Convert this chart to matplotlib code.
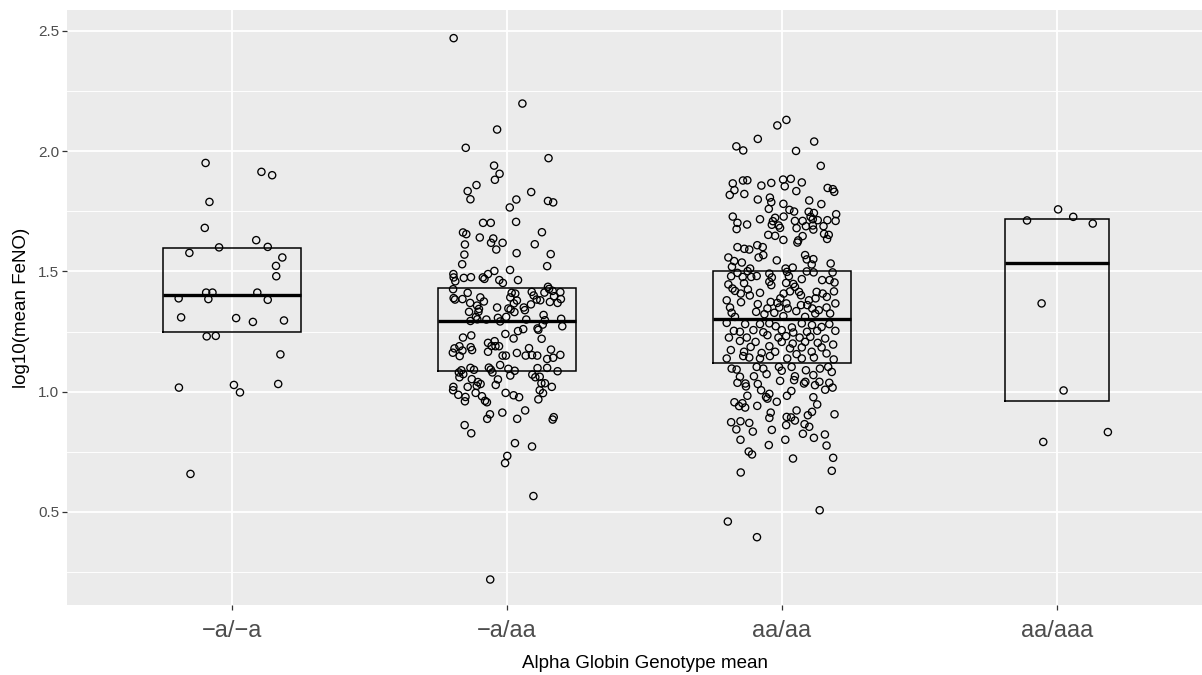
import matplotlib
matplotlib.use("Agg")
import matplotlib.pyplot as plt

categories = ["\u2212a/\u2212a", "\u2212a/aa", "aa/aa", "aa/aaa"]
x_title = "Alpha Globin Genotype mean"
y_title = "log10(mean FeNO)"
y_ticks = [0.5, 1.0, 1.5, 2.0, 2.5]
y_minor = [0.25, 0.75, 1.25, 1.75, 2.25]

# crossbar summaries per genotype
box_low = [1.250, 1.085, 1.120, 0.962]
box_mid = [1.402, 1.292, 1.301, 1.534]
box_high = [1.598, 1.430, 1.502, 1.716]
box_width = [0.5, 0.5, 0.5, 0.38]

# (jitter offset, value) pairs
pts_a_a = [(-0.096,1.951),(0.107,1.914),(0.146,1.900),(-0.082,1.789),(-0.099,1.681),(0.088,1.630),(-0.047,1.600),(0.130,1.602),(-0.155,1.577),(0.183,1.558),(0.160,1.523),(0.161,1.480),(-0.094,1.412),(-0.071,1.412),(0.092,1.412),(-0.194,1.388),(-0.086,1.385),(0.130,1.382),(-0.185,1.309),(0.015,1.306),(0.076,1.290),(0.189,1.296),(-0.092,1.230),(-0.059,1.232),(0.176,1.155),(-0.193,1.017),(0.007,1.028),(0.029,0.997),(0.168,1.032),(-0.151,0.658)]

pts_a_aa = [(-0.194,2.470),(0.056,2.198),(-0.036,2.090),(-0.150,2.014),(0.151,1.971),(-0.047,1.940),(-0.027,1.906),(-0.044,1.881),(-0.111,1.859),(-0.143,1.834),(-0.133,1.800),(0.088,1.830),(0.034,1.799),(0.010,1.766),(0.149,1.793),(0.168,1.787),
(-0.087,1.702),(-0.059,1.702),(0.033,1.706),(-0.160,1.662),(-0.148,1.655),(0.127,1.663),(-0.099,1.641),(-0.050,1.637),(-0.058,1.619),(-0.016,1.619),(-0.153,1.612),(0.101,1.613),(-0.039,1.591),(-0.155,1.570),(0.035,1.576),(0.159,1.572),(-0.163,1.530),(0.146,1.522),(0.011,1.506),(-0.195,1.489),(-0.069,1.489),(-0.046,1.502),(-0.194,1.475),(-0.157,1.473),(-0.131,1.476),(-0.088,1.475),(-0.082,1.469),(-0.188,1.459),(-0.028,1.464),(-0.015,1.452),(0.040,1.464),(0.149,1.436),(0.153,1.427),(-0.196,1.426),(-0.143,1.411),(0.017,1.411),(0.030,1.408),(0.090,1.415),(0.097,1.400),(0.136,1.412),(0.166,1.419),(0.194,1.414),(-0.194,1.389),(-0.189,1.383),(-0.162,1.385),(-0.097,1.392),(-0.084,1.375),(0.012,1.392),(0.036,1.379),(0.108,1.383),(0.121,1.380),(0.171,1.397),(0.196,1.385),(0.156,1.373),(0.184,1.369),(-0.134,1.369),(-0.109,1.358),(0.025,1.367),(0.087,1.363),(-0.036,1.350),(0.005,1.346),(0.013,1.342),(0.061,1.350),(0.065,1.339),(-0.102,1.344),(-0.138,1.332),(-0.104,1.332),(0.027,1.331),(0.133,1.319),(-0.113,1.311),(-0.108,1.301),(-0.075,1.300),(-0.033,1.307),(-0.003,1.311),(0.070,1.300),(-0.133,1.294),(-0.025,1.292),(0.138,1.297),(0.197,1.303),(0.130,1.279),(0.201,1.272),(0.111,1.263),(0.114,1.257),(0.059,1.260),(0.040,1.252),(-0.006,1.240),(-0.130,1.234),(0.024,1.221),(-0.160,1.225),(0.126,1.220),(-0.069,1.203),(-0.045,1.210),(-0.056,1.190),(-0.042,1.189),(-0.029,1.189),(-0.173,1.189),(-0.191,1.180),(-0.132,1.185),(-0.127,1.173),(-0.162,1.171),(-0.069,1.166),(0.080,1.181),(0.160,1.175),(-0.197,1.162),(-0.172,1.148),(-0.016,1.150),(-0.004,1.150),(0.036,1.161),(0.068,1.150),(0.091,1.152),(0.110,1.150),(0.194,1.153),(0.146,1.136),(0.168,1.141),(-0.025,1.111),(-0.166,1.089),(-0.175,1.080),(-0.133,1.099),(-0.120,1.091),(-0.066,1.100),(-0.059,1.092),(0.005,1.095),(0.028,1.087),(0.111,1.098),(0.146,1.099),(0.184,1.085),(-0.159,1.073),(-0.053,1.080),(0.012,1.067),(0.092,1.071),(0.103,1.060),(0.119,1.062),(-0.173,1.060),(-0.128,1.052),(-0.033,1.051),(-0.106,1.040),(-0.096,1.032),(-0.041,1.028),(0.125,1.035),(0.138,1.035),(-0.143,1.020),(-0.110,1.024),(0.163,1.020),(-0.195,1.020),(-0.196,1.006),(0.119,1.006),(-0.177,0.987),(-0.151,0.978),(-0.114,0.995),(-0.091,0.981),(-0.005,0.995),(0.024,0.985),(0.044,0.977),(0.131,0.994),(0.114,0.968),(-0.153,0.960),(-0.080,0.962),(-0.073,0.956),(0.066,0.922),(-0.017,0.913),(-0.062,0.906),(-0.072,0.887),(0.037,0.887),(0.170,0.894),(0.166,0.884),
(-0.154,0.861),(-0.130,0.827),(0.029,0.786),(0.091,0.772),(0.001,0.733),(-0.007,0.703),(0.096,0.566),(-0.061,0.219)]

pts_aa_aa = [(0.016,2.130),(-0.017,2.107),(-0.088,2.051),(-0.166,2.020),(-0.141,2.003),(0.117,2.040),(0.051,2.001),(0.141,1.939),(-0.142,1.878),(-0.126,1.879),(-0.179,1.866),(-0.173,1.838),(-0.190,1.818),(-0.137,1.822),(-0.075,1.857),(-0.039,1.868),(0.004,1.882),(0.010,1.854),(0.032,1.885),(0.072,1.870),(0.052,1.834),(0.166,1.847),(0.185,1.842),(0.190,1.831),(-0.088,1.799),(-0.044,1.807),(-0.039,1.788),(-0.048,1.760),(0.005,1.781),(0.099,1.795),(0.143,1.780),(0.027,1.756),(0.044,1.749),(0.097,1.748),(0.116,1.743),(0.197,1.738),(-0.179,1.728),(-0.080,1.717),(0.006,1.728),(-0.025,1.723),(0.104,1.727),(0.112,1.717),(0.130,1.713),(-0.162,1.702),(-0.127,1.695),(-0.033,1.709),(-0.037,1.694),(-0.012,1.691),(0.047,1.710),(0.075,1.710),(0.087,1.688),(0.112,1.691),(0.165,1.713),(0.195,1.710),(0.151,1.688),(-0.165,1.676),(-0.007,1.681),(0.053,1.680),(0.114,1.674),(-0.050,1.652),(-0.025,1.648),(0.075,1.647),(0.005,1.631),(0.059,1.629),(0.056,1.620),(0.153,1.656),(0.170,1.652),(0.164,1.635),(-0.162,1.601),(-0.137,1.594),(-0.119,1.591),(-0.090,1.609),(-0.070,1.601),
(-0.195,1.558),(-0.174,1.543),(-0.146,1.537),(-0.085,1.558),(-0.068,1.568),(-0.019,1.546),(0.084,1.568),(0.090,1.550),(0.114,1.551),(0.177,1.533),(0.108,1.529),(0.013,1.512),(0.039,1.516),(-0.182,1.519),(-0.116,1.512),(-0.125,1.501),(-0.162,1.494),(-0.046,1.491),(-0.037,1.475),(0.018,1.498),(0.025,1.480),(0.090,1.500),(0.115,1.496),(0.184,1.496),(-0.185,1.480),(-0.143,1.477),(-0.112,1.477),(-0.092,1.481),(0.072,1.468),(0.146,1.464),(0.173,1.464),(0.191,1.454),(-0.195,1.446),(-0.138,1.451),(-0.046,1.457),(-0.039,1.443),(0.015,1.452),(0.041,1.448),(0.047,1.436),(-0.180,1.429),(-0.171,1.419),(-0.124,1.425),(-0.150,1.408),(-0.117,1.400),(-0.080,1.411),(0.006,1.408),(0.029,1.417),(0.062,1.415),(0.069,1.401),(0.126,1.415),(0.148,1.408),(0.189,1.417),(0.163,1.394),(-0.201,1.380),(-0.149,1.372),(-0.041,1.373),(-0.006,1.388),(-0.017,1.369),(0.016,1.367),(0.098,1.380),(0.122,1.388),(0.194,1.367),(-0.189,1.350),(-0.088,1.364),(-0.053,1.346),(-0.010,1.350),(0.021,1.346),(0.069,1.360),(0.092,1.360),(0.110,1.346),(0.134,1.339),(0.162,1.350),(-0.183,1.328),(-0.094,1.332),(-0.028,1.328),(0.052,1.335),(0.121,1.325),(0.175,1.325),(-0.064,1.322),(-0.171,1.311),(0.005,1.314),(0.084,1.311),
(-0.201,1.286),(-0.134,1.281),(-0.080,1.281),(-0.046,1.284),(-0.023,1.272),(0.036,1.267),(0.072,1.284),(0.109,1.277),(0.144,1.269),(0.172,1.281),(-0.175,1.253),(-0.153,1.249),(-0.104,1.256),(-0.068,1.247),(-0.001,1.256),(0.041,1.246),(0.091,1.249),(0.128,1.253),(0.194,1.253),(-0.193,1.225),(-0.128,1.225),(-0.053,1.235),(-0.013,1.225),(0.015,1.231),(0.064,1.225),(0.103,1.228),(0.157,1.221),(-0.153,1.211),(-0.096,1.207),(-0.001,1.207),(0.039,1.200),(0.084,1.207),(0.130,1.203),(0.186,1.196),(-0.114,1.186),(-0.046,1.189),(0.029,1.180),(0.072,1.184),(0.144,1.184),(-0.186,1.173),(-0.138,1.166),(-0.074,1.161),(-0.025,1.166),(0.053,1.156),(0.108,1.166),(0.162,1.159),(-0.201,1.138),(-0.141,1.148),(-0.119,1.142),(-0.080,1.138),(-0.044,1.148),(0.019,1.138),(0.072,1.138),(0.116,1.142),(0.188,1.134),(-0.183,1.096),(-0.165,1.092),(-0.092,1.103),(-0.068,1.096),(-0.011,1.103),(-0.001,1.087),(0.035,1.103),(0.087,1.089),(0.138,1.096),(0.168,1.103),(0.181,1.082),(-0.153,1.062),(-0.102,1.064),(-0.056,1.073),(0.047,1.064),(0.114,1.069),
(-0.162,1.037),(-0.133,1.034),(-0.131,1.022),(-0.088,1.032),(-0.007,1.045),(0.044,1.048),(0.080,1.034),(0.085,1.041),(0.120,1.027),(0.136,1.041),(0.172,1.037),(0.184,1.017),(0.157,1.008),(-0.076,1.006),(0.034,1.003),(-0.046,0.991),(-0.126,0.983),(-0.058,0.978),(-0.053,0.971),(0.018,0.983),(0.114,0.977),(-0.173,0.956),(-0.144,0.952),(-0.156,0.940),(-0.134,0.934),(-0.090,0.941),(-0.019,0.958),(0.128,0.947),(0.053,0.922),(0.109,0.916),(0.094,0.902),(-0.041,0.913),(-0.046,0.891),(0.017,0.895),(0.033,0.893),(0.191,0.906),(-0.185,0.873),(-0.151,0.877),(-0.119,0.870),(0.047,0.880),(0.015,0.861),(0.082,0.865),(0.099,0.854),(-0.166,0.843),(-0.106,0.834),(-0.037,0.841),(0.076,0.825),(0.156,0.822),(-0.151,0.800),(0.012,0.800),(0.116,0.808),(-0.048,0.778),(0.162,0.776),(-0.121,0.751),(-0.109,0.739),(0.040,0.722),(0.186,0.725),(-0.150,0.664),(0.181,0.671),(0.137,0.507),(-0.197,0.460),(-0.091,0.395)]

pts_aa_aaa = [(0.004,1.758),(-0.109,1.712),(0.059,1.727),(0.130,1.699),(-0.056,1.367),(0.024,1.005),(0.185,0.832),(-0.050,0.791)]

groups = [pts_a_a, pts_a_aa, pts_aa_aa, pts_aa_aaa]

plt.rcParams['font.family'] = ['Liberation Sans', 'DejaVu Sans']

W, H = 1202, 675
fig = plt.figure(figsize=(W / 100, H / 100), dpi=100)
left, right, top, bottom = 67, 1222, 10, 605
ax = fig.add_axes([left / W, 1 - bottom / H, (right - left) / W, (bottom - top) / H])
ax.set_facecolor('#EBEBEB')
ax.set_xlim(0.4, 4.6)
ax.set_ylim(0.113, 2.587)

ax.set_yticks(y_ticks)
ax.set_yticklabels([f"{v:.1f}" for v in y_ticks])
ax.set_yticks(y_minor, minor=True)
ax.set_xticks(range(1, len(categories) + 1))
ax.set_xticklabels(categories)

ax.set_axisbelow(True)
ax.grid(which='major', color='white', linewidth=1.3)
ax.grid(which='minor', axis='y', color='white', linewidth=0.65)
for s in ax.spines.values():
    s.set_visible(False)

ax.tick_params(axis='both', which='major', color='#333333', length=3.5, width=0.9)
ax.tick_params(axis='both', which='minor', length=0)
ax.tick_params(axis='y', labelsize=11, labelcolor='#4D4D4D', pad=2)
ax.tick_params(axis='x', labelsize=17, labelcolor='#4D4D4D', pad=7)

for i, pts in enumerate(groups):
    xs = [i + 1 + d for d, _ in pts]
    ys = [v for _, v in pts]
    ax.scatter(xs, ys, s=27, facecolors='none', edgecolors='black', linewidths=0.95, zorder=3)

for i in range(len(categories)):
    c = i + 1
    w = box_width[i] / 2
    ax.plot([c - w, c + w, c + w, c - w, c - w],
            [box_low[i], box_low[i], box_high[i], box_high[i], box_low[i]],
            color='black', linewidth=1.1, zorder=4, solid_joinstyle='miter')
    ax.plot([c - w, c + w], [box_mid[i], box_mid[i]], color='black', linewidth=2.4, zorder=4,
            solid_capstyle='butt')

ax.set_ylabel(y_title, fontsize=13.5, color='black', labelpad=6)
ax.set_xlabel(x_title, fontsize=13.5, color='black', labelpad=10)

fig.savefig('out.png', dpi=100)
